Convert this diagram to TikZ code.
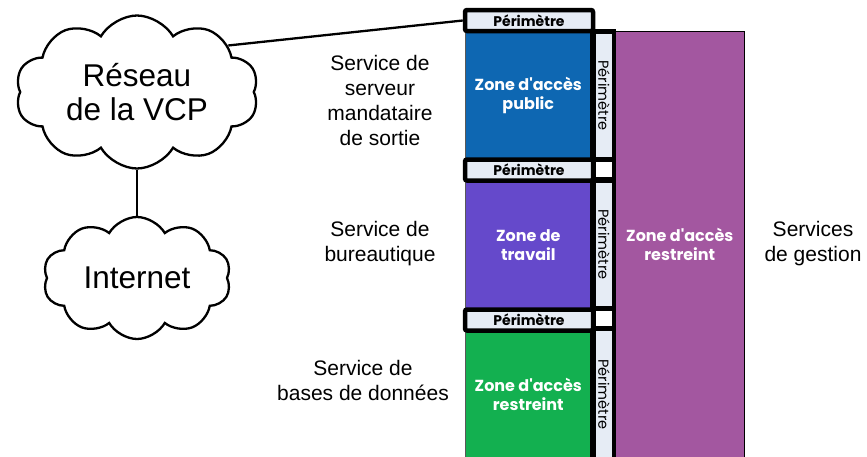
\documentclass[tikz,border=0pt]{standalone}
\usepackage{fontspec}
\setmainfont{Liberation Sans}
\newfontfamily\geofont{Poppins}
\usetikzlibrary{shapes.symbols}
\definecolor{zblue}{RGB}{14,103,178}
\definecolor{zviolet}{RGB}{101,73,203}
\definecolor{zgreen}{RGB}{19,176,80}
\definecolor{zpurple}{RGB}{163,87,160}
\definecolor{plight}{RGB}{230,236,245}
\begin{document}
\begin{tikzpicture}[x=1pt,y=-1pt,
  zonebox/.style={draw=black!65, line width=0.6pt, anchor=north west, inner sep=0pt,
    text=white, align=center, font=\geofont\bfseries\fontsize{16}{19}\selectfont},
  hperim/.style={draw=black, line width=4.5pt, rounded corners=2pt, fill=plight,
    minimum width=128pt, minimum height=21pt, inner sep=0pt,
    font=\geofont\bfseries\fontsize{14}{14}\selectfont},
  vperim/.style={fill=plight, rotate=-90, minimum height=16pt, inner sep=0pt,
    font=\geofont\fontsize{14.5}{14.5}\selectfont},
  gapcell/.style={fill=white, minimum width=16pt, minimum height=15pt, inner sep=0pt},
  svc/.style={align=center, font=\fontsize{21}{25}\selectfont},
  netcloud/.style={cloud, cloud puffs=10, cloud puff arc=120, cloud ignores aspect,
    draw=black, line width=2.3pt, fill=white, align=center,
    font=\fontsize{31.5}{34}\selectfont},
  link/.style={draw=black, line width=2.3pt}]
\useasboundingbox (0,0) rectangle (867,456);

% zones
\node[zonebox, fill=zblue, minimum width=126pt, minimum height=128pt] (zpub) at (465,31) {Zone d'accès\\public};
\node[zonebox, fill=zviolet, minimum width=126pt, minimum height=128pt] (ztrav) at (465,181) {Zone de\\travail};
\node[zonebox, fill=zgreen, minimum width=126pt, minimum height=127pt] (zrest) at (465,331) {Zone d'accès\\restreint};
\node[zonebox, fill=zpurple, draw=black, minimum width=129pt, minimum height=427pt] (zmgmt) at (615,31) {Zone d'accès\\restreint};

% black frame of the vertical perimeter column
\fill[black] (590,29) rectangle (615.5,458);
\node[vperim, minimum width=123pt] (v1) at (604,95.5) {Périmètre};
\node[vperim, minimum width=123pt] (v2) at (604,244.5) {Périmètre};
\node[vperim, minimum width=127pt] (v3) at (604,394.5) {Périmètre};
\node[gapcell] (g1) at (604,169.5) {};
\node[gapcell] (g2) at (604,318.5) {};

% horizontal perimeters
\node[hperim] (p1) at (529,20.5) {Périmètre};
\node[hperim] (p2) at (529,170) {Périmètre};
\node[hperim] (p3) at (529,320) {Périmètre};

% service labels
\node[svc] (s1) at (380,100) {Service de\\serveur\\mandataire\\de sortie};
\node[svc] (s2) at (380,244) {Service de\\bureautique};
\node[svc] (s3) at (363,380) {Service de\\bases de données};
\node[svc] (s4) at (813,244) {Services\\de gestion};

% networks
\node[netcloud, minimum width=243pt, minimum height=153pt] (reseau) at (137,92) {Réseau\\de la VCP};
\node[netcloud, minimum width=188pt, minimum height=122pt] (internet) at (137,278) {Internet};

\draw[link] (reseau) -- (internet);
\draw[link] (reseau.27) -- (p1.west);
\end{tikzpicture}
\end{document}
